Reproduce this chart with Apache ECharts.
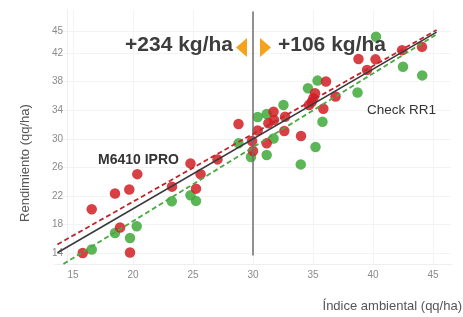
<!DOCTYPE html>
<html><head><meta charset="utf-8">
<script src="https://cdn.jsdelivr.net/npm/echarts@6/dist/echarts.min.js"></script>
<style>html,body{margin:0;padding:0;background:#fff}#c{width:463px;height:317px}</style>
</head><body><div id="c"></div>
<script>
// M6410 IPRO (red) points
const redX = [15.81,16.56,18.5,19.69,20.36,18.92,19.75,23.25,24.79,25.25,25.63,27.04,28.79,29.92,30.0,30.39,31.14,31.28,31.75,31.71,32.67,32.61,34.0,34.67,34.89,35.03,35.17,36.08,35.86,36.88,38.79,40.21,39.5,42.42,44.08];
const redY = [14.04,20.16,22.36,22.92,25.06,17.6,14.1,23.31,26.56,23.03,25.06,27.12,32.07,29.69,28.29,31.16,29.36,32.17,32.63,33.79,33.09,31.09,30.39,34.73,35.15,35.67,36.37,38.0,34.2,35.92,41.14,41.1,39.63,42.39,42.85];
// Check RR1 (green) points
const greenX = [16.56,18.5,19.75,20.31,23.23,24.79,25.25,28.79,29.83,30.39,31.14,31.14,31.71,32.54,33.98,35.21,34.58,35.38,35.79,38.71,40.25,42.5,44.1];
const greenY = [14.52,16.84,16.14,17.78,21.28,22.12,21.32,29.36,27.45,33.05,33.47,27.73,30.04,34.73,26.42,28.85,37.07,38.13,32.39,36.48,44.25,40.08,38.86];
// Trend lines (endpoints)
const blackLineX = [13.7, 45.3], blackLineY = [14.08, 44.9];
const redLineX = [13.7, 45.3], redLineY = [15.23, 45.2];
const greenLineX = [14.2, 45.3], greenLineY = [12.5, 44.6];
const vLineX = [30, 30], vLineY = [13.7, 47.8];
// Tick labels
const xTicks = [15, 20, 25, 30, 35, 40, 45];
const yTicks = [14, 18, 22, 26, 30, 34, 38, 42, 45];

const zip = (a, b) => a.map((v, i) => [v, b[i]]);
const chart = echarts.init(document.getElementById('c'), null, {renderer: 'canvas'});
const FONT = 'Liberation Sans, Arial, sans-serif';
chart.setOption({
  animation: false,
  grid: {left: 55, right: 12, top: 10, bottom: 53},
  xAxis: {
    type: 'value', min: 13.5, max: 46.5,
    axisLine: {show: true, lineStyle: {color: '#eeeeee'}},
    axisTick: {show: false, customValues: xTicks},
    axisLabel: {customValues: xTicks, color: '#8a8a8a', fontSize: 10, fontFamily: FONT, margin: 6},
    splitLine: {show: true, lineStyle: {color: '#f3f3f3'}}
  },
  yAxis: {
    type: 'value', min: 12.5, max: 48, offset: -12,
    axisLine: {show: true, lineStyle: {color: '#eeeeee'}},
    axisTick: {show: false, customValues: yTicks},
    axisLabel: {customValues: yTicks, color: '#8a8a8a', fontSize: 10, fontFamily: FONT, margin: 4},
    splitLine: {show: true, lineStyle: {color: '#f3f3f3'}}
  },
  series: [
    {type: 'scatter', data: zip(greenX, greenY), symbolSize: 10.5, itemStyle: {color: '#3fa93a', opacity: 0.85}, z: 2},
    {type: 'scatter', data: zip(redX, redY), symbolSize: 10.5, itemStyle: {color: '#d01e24', opacity: 0.85}, z: 3},
    {type: 'line', data: zip(vLineX, vLineY), symbol: 'none', lineStyle: {color: '#6e6e6e', width: 1.5}, z: 4},
    {type: 'line', data: zip(blackLineX, blackLineY), symbol: 'none', lineStyle: {color: '#3a3a3a', width: 1.6}, z: 5},
    {type: 'line', data: zip(redLineX, redLineY), symbol: 'none', lineStyle: {color: '#c0262b', width: 1.8, type: [5, 3]}, z: 5},
    {type: 'line', data: zip(greenLineX, greenLineY), symbol: 'none', lineStyle: {color: '#4aa842', width: 1.8, type: [5, 3]}, z: 5}
  ],
  graphic: [
    {type: 'text', x: 233, y: 45, style: {text: '+234 kg/ha', font: 'bold 21px ' + FONT, fill: '#3d3d3d', align: 'right', verticalAlign: 'middle'}, z: 10},
    {type: 'text', x: 278, y: 45, style: {text: '+106 kg/ha', font: 'bold 21px ' + FONT, fill: '#3d3d3d', align: 'left', verticalAlign: 'middle'}, z: 10},
    {type: 'polygon', shape: {points: [[236, 47.5], [247, 38], [247, 57]]}, style: {fill: '#f5a31c'}, z: 10},
    {type: 'polygon', shape: {points: [[271, 47.5], [260, 38], [260, 57]]}, style: {fill: '#f5a31c'}, z: 10},
    {type: 'text', x: 98, y: 160, style: {text: 'M6410 IPRO', font: 'bold 14px ' + FONT, fill: '#333', align: 'left', verticalAlign: 'middle'}, z: 10},
    {type: 'text', x: 367, y: 110, style: {text: 'Check RR1', font: '13.5px ' + FONT, fill: '#333', align: 'left', verticalAlign: 'middle'}, z: 10},
    {type: 'text', x: 462, y: 306, style: {text: 'Índice ambiental (qq/ha)', font: '13px ' + FONT, fill: '#555', align: 'right', verticalAlign: 'middle'}, z: 10},
    {type: 'text', x: 25, y: 163, rotation: Math.PI / 2, style: {text: 'Rendimiento (qq/ha)', font: '13px ' + FONT, fill: '#555', align: 'center', verticalAlign: 'middle'}, z: 10}
  ]
});
</script></body></html>
